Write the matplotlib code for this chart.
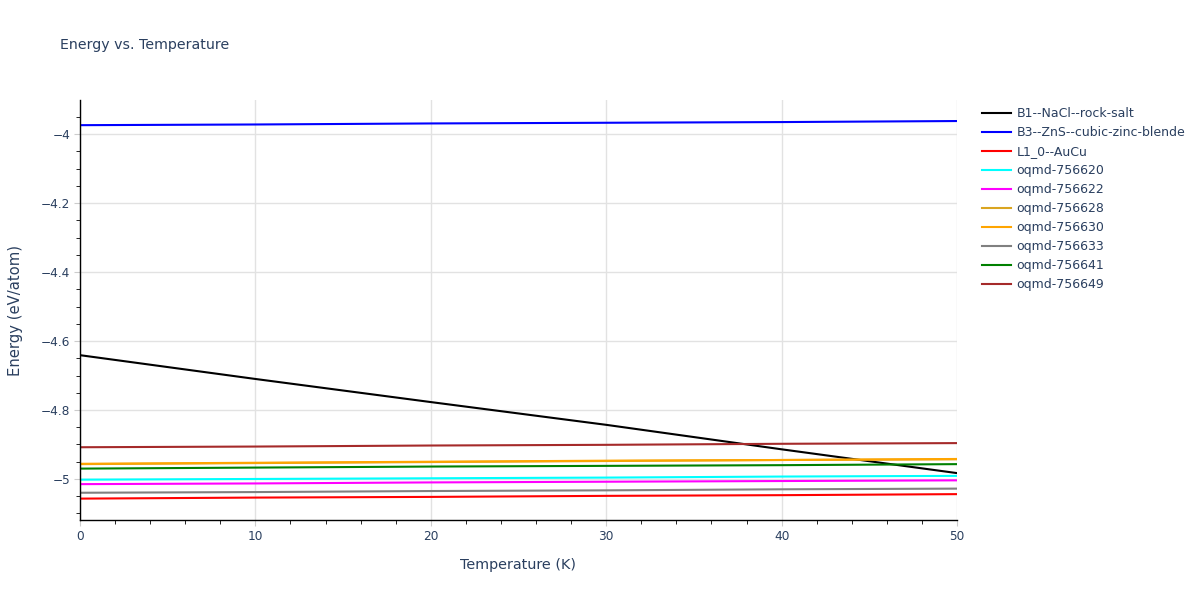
import numpy as np
import matplotlib.pyplot as plt
from matplotlib.ticker import MultipleLocator, FuncFormatter

temps = [0, 10, 20, 30, 40, 50]

names = ['B1--NaCl--rock-salt', 'B3--ZnS--cubic-zinc-blende', 'L1_0--AuCu',
         'oqmd-756620', 'oqmd-756622', 'oqmd-756628', 'oqmd-756630',
         'oqmd-756633', 'oqmd-756641', 'oqmd-756649']
colors = ['black', 'blue', 'red', 'cyan', 'magenta', 'goldenrod', 'orange',
          'gray', 'green', 'brown']

e_b1 = [-4.641, -4.710, -4.777, -4.843, -4.914, -4.983]
e_b3 = [-3.974, -3.972, -3.969, -3.967, -3.965, -3.962]
e_l10 = [-5.057, -5.054, -5.052, -5.049, -5.047, -5.044]
e_620 = [-5.002, -5.000, -4.998, -4.996, -4.993, -4.991]
e_622 = [-5.015, -5.013, -5.010, -5.008, -5.006, -5.004]
e_628 = [-4.957, -4.954, -4.951, -4.948, -4.945, -4.943]
e_630 = [-4.956, -4.953, -4.950, -4.947, -4.945, -4.942]
e_633 = [-5.040, -5.038, -5.035, -5.033, -5.030, -5.028]
e_641 = [-4.970, -4.967, -4.964, -4.962, -4.960, -4.957]
e_649 = [-4.908, -4.906, -4.903, -4.901, -4.898, -4.896]
energies = [e_b1, e_b3, e_l10, e_620, e_622, e_628, e_630, e_633, e_641, e_649]

txt = '#2a3f5f'
plt.rcParams['font.family'] = ['DejaVu Sans']

fig = plt.figure(figsize=(12, 6), dpi=100)
ax = fig.add_axes([80/1200, 1-520/600, 877/1200, 420/600])

for nm, c, e in zip(names, colors, energies):
    ax.plot(temps, e, color=c, lw=1.5, label=nm)

ax.set_xlim(0, 50)
ax.set_ylim(-5.119, -3.901)
ax.xaxis.set_major_locator(MultipleLocator(10))
ax.xaxis.set_minor_locator(MultipleLocator(2))
ax.yaxis.set_major_locator(MultipleLocator(0.2))
ax.yaxis.set_minor_locator(MultipleLocator(0.05))
ax.yaxis.set_major_formatter(FuncFormatter(lambda v, p: ('%g' % round(v, 2)).replace('-', '\u2212')))
ax.grid(True, which='major', color='#e2e2e2', lw=1)
ax.set_axisbelow(True)
for s in ['top', 'right']:
    ax.spines[s].set_visible(False)
for s in ['left', 'bottom']:
    ax.spines[s].set_color('black')
    ax.spines[s].set_linewidth(1)
ax.tick_params(which='major', length=4, color='#cccccc', labelsize=8.7, labelcolor=txt, pad=3)
ax.tick_params(which='minor', length=3, color='black')

ax.set_xlabel('Temperature (K)', fontsize=10.4, color=txt, labelpad=11)
ax.set_ylabel('Energy (eV/atom)', fontsize=10.6, color=txt, labelpad=13)
fig.text(60/1200, 1-45/600, 'Energy vs. Temperature', fontsize=10.2, color=txt, va='center')

leg = ax.legend(loc='upper left', bbox_to_anchor=(982/1200, 1-107/600),
                bbox_transform=fig.transFigure, frameon=False, fontsize=9,
                handlelength=2.3, handletextpad=0.45, labelspacing=0.48,
                borderaxespad=0, borderpad=0)
for t in leg.get_texts():
    t.set_color(txt)

fig.savefig('out.png', dpi=100)
